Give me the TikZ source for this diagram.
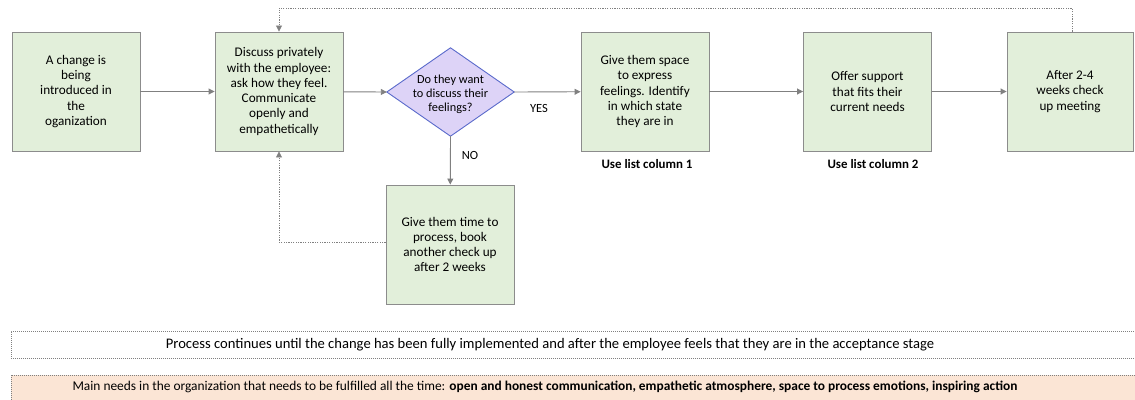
\documentclass[tikz,border=0pt]{standalone}
\usepackage{fontspec}
\setmainfont{Carlito}
\usetikzlibrary{arrows.meta}
\definecolor{stepfill}{HTML}{E2EFDA}
\definecolor{stepline}{HTML}{8C8C8C}
\definecolor{askfill}{HTML}{DDD3F7}
\definecolor{askline}{HTML}{5A6ACB}
\definecolor{needfill}{HTML}{FBE5D5}
\definecolor{wire}{HTML}{808080}
\begin{document}
\begin{tikzpicture}[x=1pt,y=-1pt,
  stepbox/.style={draw=stepline, line width=0.9pt, fill=stepfill, minimum width=128pt,
    minimum height=119pt, inner sep=2pt, align=center, font=\fontsize{13.2}{15.3}\selectfont},
  flow/.style={draw=wire, line width=0.9pt, -{Triangle[length=6pt,width=6pt]}},
  loopback/.style={draw=wire, line width=0.8pt, dash pattern=on 1.2pt off 1.2pt,
    -{Triangle[length=6pt,width=6pt]}},
  lbl/.style={font=\fontsize{12.5}{14}\selectfont},
  banner/.style={draw=wire, line width=0.6pt, dash pattern=on 1pt off 1pt},
]
\useasboundingbox (0,0) rectangle (1135,399);

% process steps
\node[stepbox] (start) at (76,91.5) {A change is\\being\\introduced in\\the\\oganization};
\node[stepbox] (talk) at (279,91.5) {Discuss privately\\with the employee:\\ask how they feel.\\Communicate\\openly and\\empathetically};
\node[stepbox] (space) at (645,91.5) {Give them space\\to express\\feelings. Identify\\in which state\\they are in};
\node[stepbox] (support) at (867.5,91.5) {Offer support\\that fits their\\current needs};
\node[stepbox, minimum width=126pt] (checkup) at (1070,91.5) {After 2-4\\weeks check\\up meeting};
\node[stepbox] (wait) at (450,244.5) {Give them time to\\process, book\\another check up\\after 2 weeks};

% decision
\node[minimum width=127pt, minimum height=88pt, inner sep=0pt] (ask) at (450.5,92) {};
\draw[draw=askline, line width=0.9pt, fill=askfill, line join=miter]
  (ask.west) -- (ask.north) -- (ask.east) -- (ask.south) -- cycle;
\node[align=center, font=\fontsize{12.3}{14}\selectfont] (asktext) at (450.5,94) {Do they want\\to discuss their\\feelings?};

% labels
\node[lbl] (yes) at (539,108) {YES};
\node[lbl] (no) at (470,155) {NO};
\node[font=\fontsize{12.9}{14}\selectfont\bfseries] (col1) at (647,164) {Use list column 1};
\node[font=\fontsize{12.9}{14}\selectfont\bfseries] (col2) at (873,164) {Use list column 2};

% main flow
\draw[flow] (start) -- (talk);
\draw[flow] (talk) -- (ask.west);
\draw[flow] (ask.east) -- (space);
\draw[flow] (space) -- (support);
\draw[flow] (support) -- (checkup);
\draw[flow] (ask.south) -- (wait);

% loops back to the discussion
\coordinate (waitcorner) at (279,242);
\coordinate (topright) at (1072,8);
\coordinate (topleft) at (279,8);
\draw[loopback] (wait.west |- waitcorner) -- (waitcorner) -- (talk.south);
\draw[loopback] (checkup.north -| topright) -- (topright) -- (topleft) -- (talk.north);

% notes along the bottom
\node[banner, fill=white, minimum width=1150pt, minimum height=27pt, anchor=north west, inner sep=0pt] (continues) at (10.5,331) {};
\node[font=\fontsize{14.6}{16}\selectfont] (continuestext) at (550,345)
  {Process continues until the change has been fully implemented and after the employee feels that they are in the acceptance stage};
\node[banner, fill=needfill, minimum width=1150pt, minimum height=40pt, anchor=north west, inner sep=0pt] (needs) at (10.5,375) {};
\node[font=\fontsize{13.4}{15}\selectfont] (needstext) at (545,387)
  {Main needs in the organization that needs to be fulfilled all the time: \textbf{open and honest communication, empathetic atmosphere, space to process emotions, inspiring action}};
\end{tikzpicture}
\end{document}
